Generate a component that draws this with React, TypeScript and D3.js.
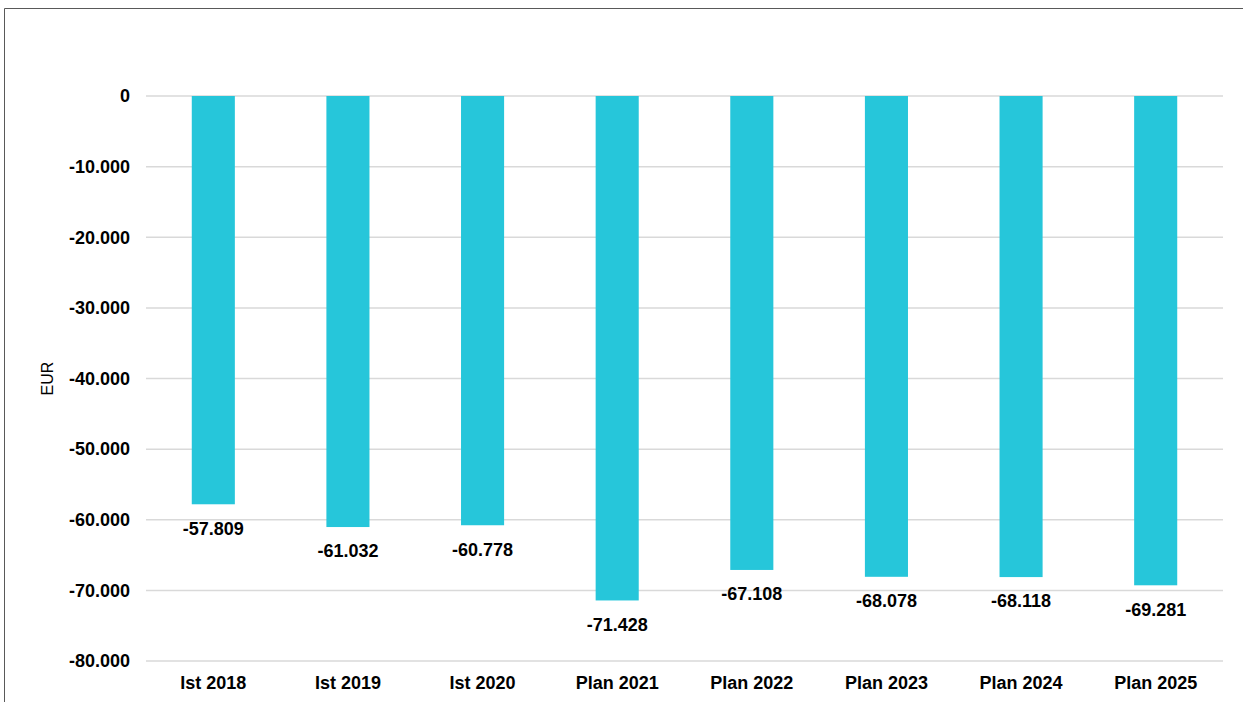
import * as d3 from 'd3';

const CATEGORIES = ['Ist 2018', 'Ist 2019', 'Ist 2020', 'Plan 2021', 'Plan 2022', 'Plan 2023', 'Plan 2024', 'Plan 2025'];
const VALUES = [-57809, -61032, -60778, -71428, -67108, -68078, -68118, -69281];
const Y_TICKS = [0, -10000, -20000, -30000, -40000, -50000, -60000, -70000, -80000];

const BAR_COLOR = '#26c6da';
const GRID_COLOR = '#d9d9d9';
const FONT = '"Liberation Sans", Arial, sans-serif';

const WIDTH = 1243;
const HEIGHT = 702;

// German number formatting, plain hyphen as minus sign
const de = d3.formatLocale({ decimal: ',', thousands: '.', grouping: [3], currency: ['', ' €'], minus: '-' });
const fmt = de.format(',d');

export default function App() {
  const margin = { top: 96, left: 146, right: 20, bottom: 41 };

  const x = d3.scaleBand<string>()
    .domain(CATEGORIES)
    .range([margin.left, WIDTH - margin.right])
    .paddingInner(0.68)
    .paddingOuter(0.34);

  const y = d3.scaleLinear()
    .domain([0, -80000])
    .range([margin.top, HEIGHT - margin.bottom]);

  return (
    <svg
      width={WIDTH}
      height={HEIGHT}
      style={{ position: 'fixed', left: 0, top: 0, fontFamily: FONT, background: 'white' }}
    >
      {/* chart frame (top and left edges visible) */}
      <line x1={4.5} x2={WIDTH} y1={8.5} y2={8.5} stroke="#595959" strokeWidth={1} />
      <line x1={4.5} x2={4.5} y1={8.5} y2={HEIGHT} stroke="#595959" strokeWidth={1} />

      {/* gridlines + y tick labels */}
      {Y_TICKS.map(t => (
        <g key={t}>
          <line
            x1={margin.left}
            x2={WIDTH - margin.right}
            y1={y(t)}
            y2={y(t)}
            stroke={GRID_COLOR}
            strokeWidth={1.5}
          />
          <text
            x={130}
            y={y(t)}
            dy="0.35em"
            textAnchor="end"
            fontSize={18}
            fontWeight={700}
            fill="#000"
          >
            {fmt(t)}
          </text>
        </g>
      ))}

      {/* bars */}
      {VALUES.map((v, i) => {
        const cx = x(CATEGORIES[i]) ?? 0;
        return (
          <g key={CATEGORIES[i]}>
            <rect
              x={cx}
              y={y(0)}
              width={x.bandwidth()}
              height={y(v) - y(0)}
              fill={BAR_COLOR}
            />
            <text
              x={cx + x.bandwidth() / 2}
              y={y(v) + 24}
              dy="0.35em"
              textAnchor="middle"
              fontSize={18}
              fontWeight={700}
              fill="#000"
            >
              {fmt(v)}
            </text>
          </g>
        );
      })}

      {/* x labels */}
      {CATEGORIES.map(c => (
        <text
          key={c}
          x={(x(c) ?? 0) + x.bandwidth() / 2}
          y={683}
          dy="0.35em"
          textAnchor="middle"
          fontSize={18}
          fontWeight={700}
          fill="#000"
        >
          {c}
        </text>
      ))}

      {/* y axis title */}
      <text
        transform={`translate(47,${(y(0) + y(-80000)) / 2}) rotate(-90)`}
        textAnchor="middle"
        dy="0.35em"
        fontSize={16}
        fill="#000"
      >
        EUR
      </text>
    </svg>
  );
}
